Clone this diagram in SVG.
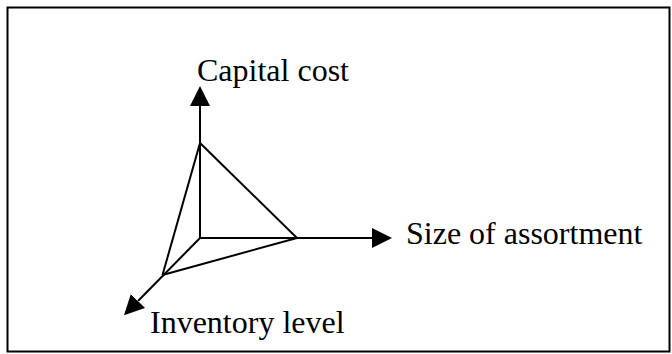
<svg xmlns="http://www.w3.org/2000/svg" width="672" height="354" viewBox="0 0 672 354">
<defs>
<style>
.frame{fill:#fff;stroke:#000;stroke-width:2}
.ln{stroke:#000;stroke-width:2;fill:none}
.ax{stroke:#000;stroke-width:2;fill:none;marker-end:url(#ah)}
.lbl{font-family:"Liberation Serif","Times New Roman",serif;font-size:32px;fill:#000}
</style>
<marker id="ah" markerUnits="userSpaceOnUse" viewBox="0 0 20 20" refX="0" refY="10" markerWidth="20" markerHeight="20" orient="auto">
<path d="M0,0 L20,10 L0,20 Z" fill="#000"/>
</marker>
</defs>
<rect class="frame" x="7.5" y="7.5" width="662" height="344"/>
<g id="connectors">
<line class="ax" x1="200" y1="238" x2="200" y2="106"/>
<line class="ax" x1="200" y1="238" x2="372" y2="238"/>
<line class="ax" x1="200" y1="238" x2="138" y2="301"/>
<line class="ln" x1="200" y1="143" x2="297" y2="238"/>
<line class="ln" x1="200" y1="143" x2="162.5" y2="275"/>
<line class="ln" x1="297" y1="238" x2="162.5" y2="275"/>
</g>
<g id="capital-cost"><text class="lbl" x="197" y="81">Capital cost</text></g>
<g id="size-of-assortment"><text class="lbl" x="406" y="244">Size of assortment</text></g>
<g id="inventory-level"><text class="lbl" x="150" y="333">Inventory level</text></g>
</svg>
